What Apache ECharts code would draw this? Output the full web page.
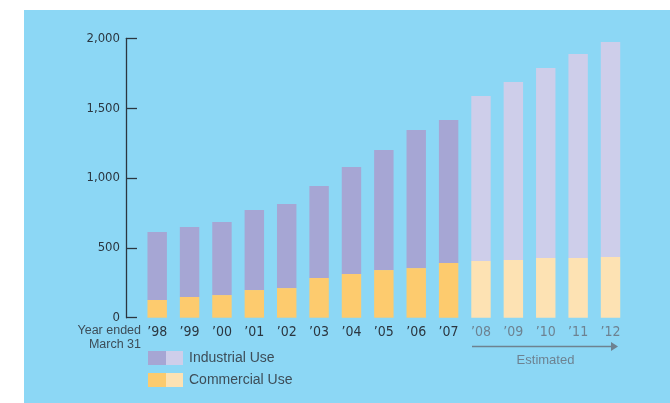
<!DOCTYPE html>
<html><head><meta charset="utf-8">
<script src="https://cdn.jsdelivr.net/npm/echarts@6/dist/echarts.min.js"></script>
<style>
html,body{margin:0;padding:0;background:#fff;}
#bg{position:absolute;left:24px;top:10px;width:646px;height:393px;background:#8CD7F5;}
#chart{position:absolute;left:0;top:0;width:670px;height:403px;}
</style></head>
<body><div id="bg"></div><div id="chart"></div>
<script>
const categories = ["’98","’99","’00","’01","’02","’03","’04","’05","’06","’07","’08","’09","’10","’11","’12"];
const estimated = [false,false,false,false,false,false,false,false,false,false,true,true,true,true,true];
const commercial = [127,148,162,198,212,284,312,341,355,391,405,413,427,427,434];
const industrial = [486,501,523,573,602,659,767,859,988,1024,1182,1274,1361,1461,1540];
const yTicks = [0,500,1000,1500,2000];

const C_IND = '#A6A6D4', C_IND_E = '#CECEEA';
const C_COM = '#FDCB6E', C_COM_E = '#FDE2B3';
const FONT = '"Liberation Sans Narrow","DejaVu Sans Condensed","Liberation Sans",sans-serif';
const FONT2 = '"Liberation Sans",sans-serif';

const chart = echarts.init(document.getElementById('chart'));
chart.setOption({
  animation:false,
  backgroundColor:'transparent',
  grid:{left:141,right:43.3,top:38.3,bottom:85.3},
  xAxis:{type:'category',
    data:categories.map((c,i)=>({value:c,textStyle:{color:estimated[i]?'#6D8291':'#2B3640'}})),
    axisLine:{show:false},axisTick:{show:false},
    axisLabel:{fontFamily:FONT,fontSize:14,margin:8,fontWeight:'normal'}},
  yAxis:{type:'value',min:0,max:2000,interval:500,offset:15,
    axisLine:{show:true,lineStyle:{color:'#2B3640',width:1.3}},
    axisTick:{show:true,inside:true,length:11,lineStyle:{color:'#2B3640',width:1.3}},
    splitLine:{show:false},
    axisLabel:{fontFamily:FONT,fontSize:13,color:'#2B3640',margin:6,
      formatter:v=>yTicks.includes(v)?v.toLocaleString('en-US'):''}},
  series:[
    {type:'bar',stack:'a',barWidth:'60%',data:commercial.map((v,i)=>({value:v,itemStyle:{color:estimated[i]?C_COM_E:C_COM}}))},
    {type:'bar',stack:'a',barWidth:'60%',data:industrial.map((v,i)=>({value:v,itemStyle:{color:estimated[i]?C_IND_E:C_IND}}))}
  ],
  graphic:[
    {type:'text',right:529,top:324,style:{text:'Year ended',x:0,fill:'#3D4D58',font:'12.5px '+FONT2,textAlign:'right'}},
    {type:'text',right:529,top:338,style:{text:'March 31',fill:'#3D4D58',font:'12.5px '+FONT2,textAlign:'right'}},
    {type:'rect',shape:{x:148,y:351,width:18,height:14},style:{fill:C_IND}},
    {type:'rect',shape:{x:166,y:351,width:17,height:14},style:{fill:C_IND_E}},
    {type:'rect',shape:{x:148,y:373,width:18,height:14},style:{fill:C_COM}},
    {type:'rect',shape:{x:166,y:373,width:17,height:14},style:{fill:C_COM_E}},
    {type:'text',x:189,y:358,style:{text:'Industrial Use',fill:'#3D4D58',font:'14px '+FONT2,textVerticalAlign:'middle'}},
    {type:'text',x:189,y:380,style:{text:'Commercial Use',fill:'#3D4D58',font:'14px '+FONT2,textVerticalAlign:'middle'}},
    {type:'line',shape:{x1:472,y1:346.5,x2:612,y2:346.5},style:{stroke:'#6D8291',lineWidth:1.5}},
    {type:'polygon',shape:{points:[[611,342],[618,346.5],[611,351]]},style:{fill:'#6D8291'}},
    {type:'text',x:545.5,y:360,style:{text:'Estimated',fill:'#6D8291',font:'13px '+FONT2,textAlign:'center',textVerticalAlign:'middle'}}
  ]
});
</script></body></html>
